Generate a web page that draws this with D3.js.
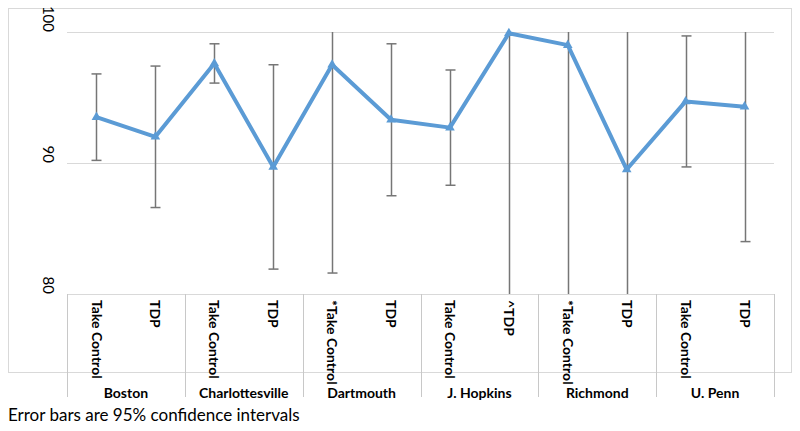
<!DOCTYPE html>
<html lang="en">
<head>
  <meta charset="UTF-8">
  <title>Take Control vs TDP by site</title>
  <script src="https://d3js.org/d3.v7.min.js"></script>
  <style>
    body { margin: 0; background: #fff; }
    svg { display: block; font-family: Lato, "Open Sans", sans-serif; }
    .grid line { stroke: #d9d9d9; stroke-width: 1; }
    .sep { stroke: #c8c8c8; stroke-width: 1; }
    .err { stroke: #767676; stroke-width: 1.5; fill: none; }
    .series { stroke: #5b9bd5; stroke-width: 4; fill: none; stroke-linejoin: round; }
    .marker { fill: #5b9bd5; }
  </style>
</head>
<body>
<script>
  // ---- data ----
  const groups = ["Boston", "Charlottesville", "Dartmouth", "J. Hopkins", "Richmond", "U. Penn"];
  const categories = ["Take Control", "TDP", "Take Control", "TDP", "*Take Control", "TDP",
                      "Take Control", "^TDP", "*Take Control", "TDP", "Take Control", "TDP"];
  const means = [93.5, 92.0, 97.6, 89.7, 97.5, 93.3, 92.7, 99.9, 99.0, 89.5, 94.7, 94.3];
  // half width of the 95% CI
  const ci = [3.3, 5.4, 1.5, 7.8, 15.9, 5.8, 4.4, 25.0, 22.0, 12.0, 5.0, 10.3];
  const yTicks = [80, 90, 100];
  const footnote = "Error bars are 95% confidence intervals";

  const W = 800, H = 431;
  const plot = { left: 67, right: 774, top: 32, bottom: 294 };

  const svg = d3.select("body").append("svg").attr("width", W).attr("height", H);

  // chart frame
  svg.append("rect")
    .attr("x", 8.5).attr("y", 8.5)
    .attr("width", 783).attr("height", 364)
    .attr("fill", "none").attr("stroke", "#d9d9d9");

  const idx = d3.range(categories.length);
  const x = d3.scaleBand().domain(idx).range([plot.left, plot.right]).paddingInner(0).paddingOuter(0);
  const xg = d3.scaleBand().domain(groups).range([plot.left, plot.right]);
  const y = d3.scaleLinear().domain([80, 100]).range([plot.bottom, plot.top]);
  const cx = i => x(i) + x.bandwidth() / 2;

  // gridlines (100, 90) and axis line (80)
  svg.append("g").attr("class", "grid")
    .selectAll("line").data(yTicks).join("line")
    .attr("x1", plot.left).attr("x2", plot.right)
    .attr("y1", d => Math.round(y(d)) + 0.5).attr("y2", d => Math.round(y(d)) + 0.5);

  // y tick labels, rotated
  svg.append("g").selectAll("text").data(yTicks).join("text")
    .attr("transform", d => `translate(48,${y(d)}) rotate(90)`)
    .attr("text-anchor", "end")
    .attr("dy", "0.35em")
    .attr("font-size", 15)
    .attr("fill", "#000")
    .text(d => d);

  // group separators of the two level axis
  const sepX = groups.map(g => xg(g)).concat([plot.right]);
  svg.append("g").selectAll("line").data(sepX).join("line")
    .attr("class", "sep")
    .attr("x1", d => Math.round(d) + 0.5).attr("x2", d => Math.round(d) + 0.5)
    .attr("y1", plot.bottom).attr("y2", 397);

  // category labels
  svg.append("g").selectAll("text").data(idx).join("text")
    .attr("transform", i => `translate(${cx(i)},${plot.bottom + 6}) rotate(90)`)
    .attr("dy", "0.35em")
    .attr("font-size", 14)
    .attr("font-weight", "bold")
    .text(i => categories[i]);

  // group labels
  svg.append("g").selectAll("text").data(groups).join("text")
    .attr("x", g => xg(g) + xg.bandwidth() / 2)
    .attr("y", 398)
    .attr("text-anchor", "middle")
    .attr("font-size", 14)
    .attr("font-weight", "bold")
    .text(g => g);

  // error bars (clipped to the axis range)
  const [lo, hi] = y.domain();
  const eb = svg.append("g");
  idx.forEach(i => {
    const top = means[i] + ci[i], bot = means[i] - ci[i];
    const px = Math.round(cx(i)) + 0.5;
    eb.append("line").attr("class", "err")
      .attr("x1", px).attr("x2", px)
      .attr("y1", y(Math.min(top, hi))).attr("y2", y(Math.max(bot, lo)));
    [top, bot].forEach(v => {
      if (v <= hi && v >= lo) {
        eb.append("line").attr("class", "err")
          .attr("x1", px - 5).attr("x2", px + 5)
          .attr("y1", y(v)).attr("y2", y(v));
      }
    });
  });

  // series line
  const line = d3.line().x(i => cx(i)).y(i => y(means[i]));
  svg.append("path").attr("class", "series").attr("d", line(idx));

  svg.append("g").selectAll("path").data(idx).join("path")
    .attr("class", "marker")
    .attr("transform", i => `translate(${cx(i)},${y(means[i])})`)
    .attr("d", d3.symbol(d3.symbolTriangle, 40));

  // footnote
  svg.append("text")
    .attr("x", 8).attr("y", 421)
    .attr("font-size", 17)
    .attr("fill", "#000")
    .text(footnote);
</script>
</body>
</html>
